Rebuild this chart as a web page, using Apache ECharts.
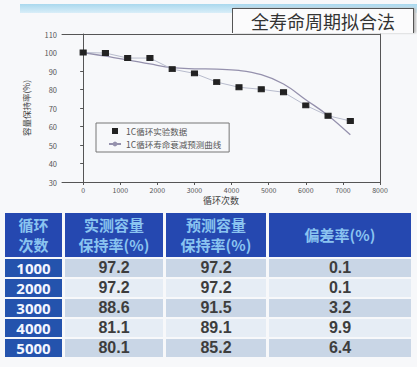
<!DOCTYPE html>
<html><head><meta charset="utf-8">
<script src="https://cdn.jsdelivr.net/npm/echarts@6/dist/echarts.min.js"></script>
<style>
html,body{margin:0;padding:0;background:#f7f8fa;}
#wrap{position:relative;width:417px;height:367px;overflow:hidden;background:#f7f8fa;font-family:"Noto Sans CJK SC","Noto Sans",sans-serif;}
#strip{position:absolute;left:20px;top:4px;width:397px;height:9px;background:linear-gradient(#a9d8ee,#d9eef8);}
#chart{position:absolute;left:0;top:0;width:417px;height:367px;}
#title{position:absolute;left:232px;top:8px;width:180px;height:24px;border:1.5px solid #555;border-bottom:none;background:#fbfbfc;box-shadow:2px 0 2px #bbb;font-size:18px;line-height:24px;text-align:center;color:#333;}
#tbl{position:absolute;left:5px;top:213px;border-collapse:separate;border-spacing:3px 2px;margin:-2px -3px;}
#tbl td{padding:0;text-align:center;font-weight:bold;color:#3d3d3d;font-size:16px;height:18px;line-height:18px;font-family:"Liberation Sans","Noto Sans",sans-serif;}
#tbl th{background:#2548b0;color:#8ac4f0;font-weight:bold;font-size:15px;line-height:20px;height:44px;padding:0;font-family:"Noto Sans CJK SC",sans-serif;}
#tbl td.c0{background:#2453ad;color:#f2f6ff;font-family:"Open Sans","Noto Sans",sans-serif;font-size:15px;}
#tbl tr.odd td{background:#c9d6e6;}
#tbl tr.even td{background:#e6edf5;}
#tbl tr td.c0{background:#2453ad;}
</style></head>
<body><div id="wrap">
<div id="strip"></div>
<div id="chart"></div>
<div id="title">全寿命周期拟合法</div>
<table id="tbl"></table>
</div>
<script>
// chart data
const cycles = [0, 600, 1200, 1800, 2400, 3000, 3600, 4200, 4800, 5400, 6000, 6600, 7200];
const measured = [100, 99.7, 97, 97, 91, 88.7, 84, 81.2, 80.1, 78.5, 71.4, 65.8, 63];
const fitted = [100, 98, 96, 93.8, 91.8, 91.2, 91, 90.3, 88, 83, 74.5, 66, 55.5];
const xTicks = [0, 1000, 2000, 3000, 4000, 5000, 6000, 7000, 8000];
const seriesNames = ['1C循环实验数据', '1C循环寿命衰减预测曲线'];
// table data
const tableHeader = ['循环<br>次数', '实测容量<br>保持率(%)', '预测容量<br>保持率(%)', '偏差率(%)'];
const tableCycles = ['1000', '2000', '3000', '4000', '5000'];
const tableMeasured = ['97.2', '97.2', '88.6', '81.1', '80.1'];
const tablePredicted = ['97.2', '97.2', '91.5', '89.1', '85.2'];
const tableDeviation = ['0.1', '0.1', '3.2', '9.9', '6.4'];

// build table
const colW = [57, 98, 100, 142];
let html = '<tr>' + tableHeader.map((h, i) => `<th style="width:${colW[i]}px">${h}</th>`).join('') + '</tr>';
tableCycles.forEach((c, i) => {
  html += `<tr class="${i % 2 === 0 ? 'odd' : 'even'}"><td class="c0">${c}</td><td>${tableMeasured[i]}</td><td>${tablePredicted[i]}</td><td>${tableDeviation[i]}</td></tr>`;
});
document.getElementById('tbl').innerHTML = html;

const chart = echarts.init(document.getElementById('chart'), null, {renderer: 'svg'});
const fontFam = '"Noto Sans CJK SC","Noto Sans",sans-serif';
chart.setOption({
  animation: false,
  textStyle: {fontFamily: fontFam},
  grid: {left: 62, right: 37, top: 34, bottom: 185, show: false},
  legend: {
    orient: 'vertical', left: 96, top: 123,
    borderColor: '#777', borderWidth: 1, padding: [3, 8, 3, 12],
    itemGap: 3, itemWidth: 12, itemHeight: 6,
    textStyle: {fontSize: 8.5, lineHeight: 10, color: '#555', fontFamily: fontFam},
    data: [{name: seriesNames[0], icon: 'path://M0,0H1V1H0Z'}, {name: seriesNames[1]}]
  },
  xAxis: [{
    type: 'value', min: -570, max: 8000,
    name: '循环次数', nameLocation: 'middle', nameGap: 14,
    nameTextStyle: {fontSize: 9, color: '#444'},
    axisLine: {show: true, lineStyle: {color: '#555', width: 1}},
    axisTick: {show: true, length: 3, customValues: xTicks, lineStyle: {color: '#555'}},
    axisLabel: {fontSize: 7, color: '#555', margin: 4, customValues: xTicks, formatter: v => String(v)},
    splitLine: {show: false}
  }, {
    type: 'value', position: 'top', min: -570, max: 8000,
    axisLine: {show: true, onZero: false, lineStyle: {color: '#555', width: 1}},
    axisTick: {show: false}, axisLabel: {show: false}, splitLine: {show: false}
  }],
  yAxis: [{
    type: 'value', min: 30, max: 110, interval: 10,
    name: '容量保持率(%)', nameLocation: 'middle', nameGap: 32,
    nameTextStyle: {fontSize: 8.5, color: '#444'},
    axisLine: {show: true, lineStyle: {color: '#555', width: 1}},
    axisTick: {show: true, length: 3, lineStyle: {color: '#555'}},
    axisLabel: {fontSize: 7.5, color: '#555', margin: 5},
    splitLine: {show: false}
  }, {
    type: 'value', position: 'right', min: 30, max: 110,
    axisLine: {show: true, onZero: false, lineStyle: {color: '#555', width: 1}},
    axisTick: {show: false}, axisLabel: {show: false}, splitLine: {show: false}
  }],
  series: [{
    name: seriesNames[1], type: 'line', smooth: 0.4, symbol: 'none',
    data: cycles.map((c, i) => [c, fitted[i]]),
    lineStyle: {color: '#9591ad', width: 1.3},
    itemStyle: {color: '#9591ad'}
  }, {
    name: seriesNames[0], type: 'line', symbol: 'rect', symbolSize: [6, 5],
    data: cycles.map((c, i) => [c, measured[i]]),
    lineStyle: {color: '#b8bccd', width: 1},
    itemStyle: {color: '#222', borderColor: '#222'}
  }]
});
</script>
</body></html>
